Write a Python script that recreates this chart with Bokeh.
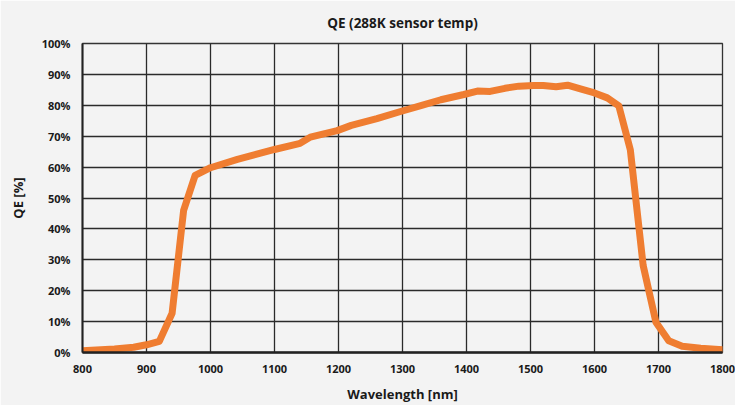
from bokeh.plotting import figure
from bokeh.models import Range1d, FixedTicker, NumeralTickFormatter
from bokeh.embed import file_html
from bokeh.resources import INLINE

# Data
wavelength_nm = [800, 850, 880, 900, 920, 940, 958, 976, 1000, 1042, 1100, 1140, 1156,
                 1198, 1220, 1260, 1297, 1330, 1360, 1396, 1417, 1437, 1460, 1482,
                 1505, 1520, 1540, 1558, 1578, 1600, 1620, 1638, 1656, 1676, 1696,
                 1716, 1737, 1766, 1800]
qe_fraction = [0.006, 0.011, 0.017, 0.025, 0.036, 0.127, 0.46, 0.573, 0.598, 0.625, 0.657,
               0.677, 0.697, 0.718, 0.735, 0.757, 0.780, 0.800, 0.818, 0.835, 0.846,
               0.845, 0.855, 0.862, 0.864, 0.864, 0.860, 0.865, 0.853, 0.840, 0.824,
               0.798, 0.656, 0.282, 0.098, 0.038, 0.020, 0.014, 0.009]

x_ticks = [800, 900, 1000, 1100, 1200, 1300, 1400, 1500, 1600, 1700, 1800]
y_ticks = [0.0, 0.1, 0.2, 0.3, 0.4, 0.5, 0.6, 0.7, 0.8, 0.9, 1.0]

FONT = "Open Sans"
BG = "#f3f3f3"
ORANGE = "#ef7d31"

p = figure(width=735, height=405, output_backend="svg", toolbar_location=None,
           x_range=Range1d(800, 1800), y_range=Range1d(0, 1.0),
           frame_width=640, frame_height=309,
           min_border_left=82, min_border_right=13, min_border_top=43, min_border_bottom=53,
           background_fill_color=BG, border_fill_color=BG)
p.outline_line_color = "#333333"
p.outline_line_width = 1.3

p.title.text = "QE (288K sensor temp)"
p.title.align = "center"
p.title.text_font = FONT
p.title.text_font_size = "13.5px"
p.title.text_font_style = "bold"
p.title.text_color = "#1a1a1a"
p.title.offset = 0
p.title.standoff = 23

for ax in (p.xaxis[0], p.yaxis[0]):
    ax.major_label_text_font = FONT
    ax.major_label_text_font_size = "11px"
    ax.major_label_text_font_style = "bold"
    ax.major_label_text_color = "#1a1a1a"
    ax.axis_label_text_font = FONT
    ax.axis_label_text_font_size = "13px"
    ax.axis_label_text_font_style = "bold"
    ax.axis_label_text_color = "#1a1a1a"
    ax.major_tick_out = 0
    ax.major_tick_in = 0
    ax.minor_tick_out = 0
    ax.minor_tick_in = 0
    ax.axis_line_color = "#222222"

p.xaxis[0].ticker = FixedTicker(ticks=x_ticks)
p.yaxis[0].ticker = FixedTicker(ticks=y_ticks)
p.yaxis[0].formatter = NumeralTickFormatter(format="0%")
p.xaxis[0].axis_label = "Wavelength [nm]"
p.yaxis[0].axis_label = "QE [%]"
p.xaxis[0].axis_line_width = 2.5
p.yaxis[0].axis_line_width = 2
p.xaxis[0].major_label_standoff = 12
p.yaxis[0].major_label_standoff = 12
p.xaxis[0].axis_label_standoff = 9
p.yaxis[0].axis_label_standoff = 12

p.xgrid.ticker = FixedTicker(ticks=x_ticks)
p.ygrid.ticker = FixedTicker(ticks=y_ticks)
for g in (p.xgrid[0], p.ygrid[0]):
    g.grid_line_color = "#2a2a2a"
    g.grid_line_width = 1.3
    g.grid_line_alpha = 1.0

p.line(wavelength_nm, qe_fraction, line_color=ORANGE, line_width=7,
       line_join="round", line_cap="round")

open("out.html", "w").write(file_html(p, INLINE))
